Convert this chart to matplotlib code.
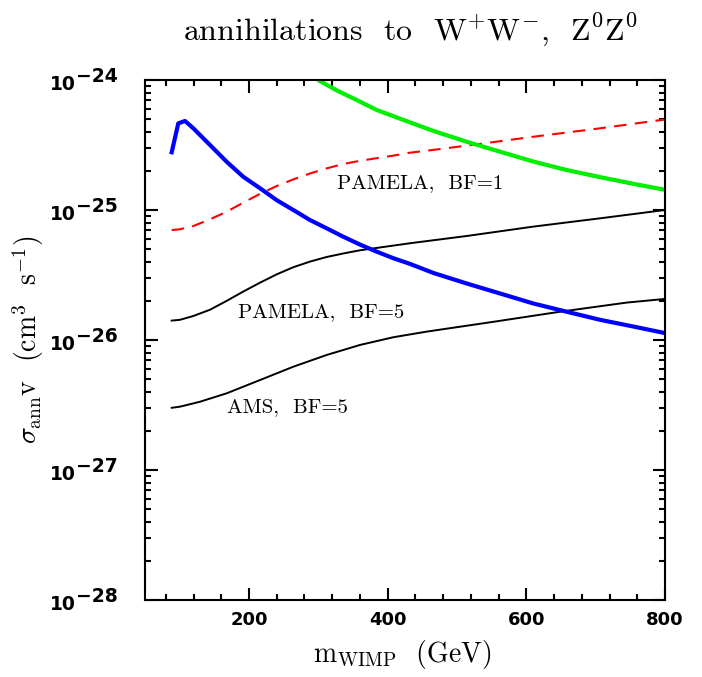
import math
import matplotlib
matplotlib.use("Agg")
import matplotlib.pyplot as plt
from matplotlib.ticker import MultipleLocator, LogLocator, FixedLocator, NullFormatter

# WIMP mass (GeV) and sigma v (cm^3/s)
blue_m = [88.5, 98.0, 107.7, 119.7, 143.8, 167.8, 191.8, 215.9, 240, 263.9, 288, 312,
          336, 360.1, 384.2, 408.1, 432.2, 465.8, 514, 562, 610, 658.2, 706.3, 754.3, 800]
blue_sv = [2.78e-25, 4.64e-25, 4.84e-25, 4.25e-25, 3.16e-25, 2.35e-25, 1.80e-25, 1.47e-25,
           1.19e-25, 1.0e-25, 8.37e-26, 7.23e-26, 6.23e-26, 5.42e-26, 4.78e-26, 4.26e-26,
           3.85e-26, 3.28e-26, 2.72e-26, 2.28e-26, 1.91e-26, 1.65e-26, 1.43e-26, 1.27e-26,
           1.13e-26]

green_m = [299.5, 327, 355.3, 384.2, 417.8, 465.8, 514, 562, 610, 658.2, 706.3, 754.3, 800]
green_sv = [1.0e-24, 8.3e-25, 7.02e-25, 5.88e-25, 5.04e-25, 4.06e-25, 3.35e-25, 2.81e-25,
            2.36e-25, 2.03e-25, 1.79e-25, 1.59e-25, 1.43e-25]

red_m = [88.5, 100.5, 119.7, 143.8, 167.8, 191.8, 215.9, 240, 263.9, 288, 312, 336,
         360.1, 408.1, 432.2, 465.8, 528.4, 610, 706.3, 800]
red_sv = [7.01e-26, 7.11e-26, 7.53e-26, 8.48e-26, 9.7e-26, 1.14e-25, 1.33e-25, 1.53e-25,
          1.72e-25, 1.91e-25, 2.09e-25, 2.26e-25, 2.39e-25, 2.62e-25, 2.76e-25, 2.9e-25,
          3.2e-25, 3.66e-25, 4.25e-25, 4.97e-25]

pam5_m = [88.5, 100.5, 119.7, 143.8, 167.8, 191.8, 215.9, 240, 263.9, 288, 312, 336,
          360.1, 432.2, 514, 610, 706.3, 800]
pam5_sv = [1.41e-26, 1.43e-26, 1.53e-26, 1.71e-26, 2.0e-26, 2.36e-26, 2.76e-26, 3.2e-26,
           3.63e-26, 4.01e-26, 4.35e-26, 4.63e-26, 4.9e-26, 5.55e-26, 6.31e-26, 7.45e-26,
           8.63e-26, 1.0e-25]

ams5_m = [88.5, 100.5, 129.3, 167.8, 215.9, 263.9, 312, 360.1, 408.1, 456.3, 552.4,
          648.6, 744.7, 800]
ams5_sv = [3.01e-27, 3.07e-27, 3.35e-27, 3.89e-27, 4.92e-27, 6.23e-27, 7.67e-27, 9.16e-27,
           1.05e-26, 1.16e-26, 1.38e-26, 1.65e-26, 1.94e-26, 2.07e-26]

y_major = [1e-28, 1e-27, 1e-26, 1e-25, 1e-24]
x_major = [200, 400, 600, 800]

fig = plt.figure(figsize=(7.02, 6.77), dpi=100)
ax = fig.add_axes([145 / 702, 1 - 600 / 677, 520 / 702, 520 / 677])

ax.plot(ams5_m, ams5_sv, color="black", lw=1.4)
ax.plot(pam5_m, pam5_sv, color="black", lw=1.4)
ax.plot(red_m, red_sv, color="#ff0000", lw=1.5, dashes=(6, 4))
ax.plot(green_m, green_sv, color="#00ee00", lw=3, solid_capstyle="butt")
ax.plot(blue_m, blue_sv, color="#0000ff", lw=3, solid_joinstyle="round")

ax.set_yscale("log")
ax.set_xlim(50, 800)
ax.set_ylim(1e-28, 1e-24)

ax.xaxis.set_major_locator(FixedLocator(x_major))
ax.xaxis.set_minor_locator(MultipleLocator(40))
ax.yaxis.set_major_locator(FixedLocator(y_major))
ax.yaxis.set_minor_locator(LogLocator(base=10, subs=range(2, 10)))
ax.yaxis.set_major_formatter(NullFormatter())
ax.tick_params(which="both", direction="in", top=True, right=True, width=1.5)
ax.tick_params(which="major", length=9, labelsize=13, pad=8)
ax.tick_params(which="minor", length=4.5)
for lab in ax.get_xticklabels():
    lab.set_fontweight("bold")
for sp in ax.spines.values():
    sp.set_linewidth(1.5)

# y labels: "10" with a full-size raised exponent, as in the original
ytrans = ax.get_yaxis_transform()
for v in y_major:
    ax.annotate("10", xy=(0, v), xycoords=ytrans, xytext=(-95, -10),
                textcoords="offset pixels", ha="left", va="baseline",
                fontsize=13.5, fontweight="bold", annotation_clip=False)
    ax.annotate("\u2212%d" % abs(round(math.log10(v))), xy=(0, v), xycoords=ytrans,
                xytext=(-69, -2), textcoords="offset pixels", ha="left",
                va="baseline", fontsize=13.5, fontweight="bold", annotation_clip=False)

cm = dict(family="cmr10", math_fontfamily="cm")
ax.text(327, 1.62e-25, "PAMELA,  BF=1", fontsize=15, ha="left", va="center", **cm)
ax.text(184.6, 1.65e-26, "PAMELA,  BF=5", fontsize=15, ha="left", va="center", **cm)
ax.text(167.8, 3.07e-27, "AMS,  BF=5", fontsize=15, ha="left", va="center", **cm)

fig.text(410 / 702, 1 - 40 / 677,
         r"annihilations  to  W$^{+}$W$^{-}$,  Z$^{0}$Z$^{0}$",
         fontsize=23, ha="center", va="baseline", **cm)
fig.text(402 / 702, 1 - 662 / 677, r"m$_{\rm WIMP}$  (GeV)",
         fontsize=20, ha="center", va="baseline", **cm)
ax.set_ylabel(r"$\sigma_{\rm ann}$v  (cm$^3$  s$^{-1}$)", fontsize=20, **cm)
ax.yaxis.set_label_coords(-0.19, 0.5)

fig.savefig("out.png", dpi=100)
